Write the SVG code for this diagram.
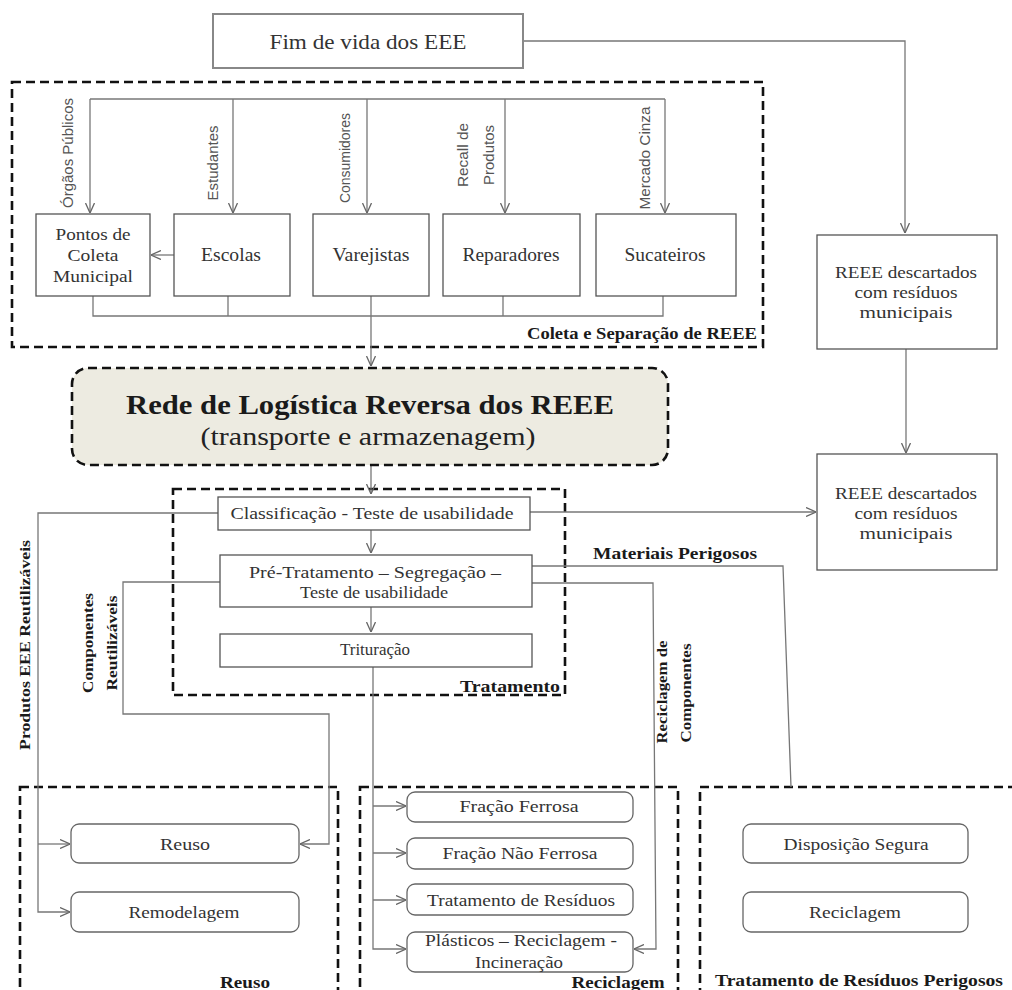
<svg xmlns="http://www.w3.org/2000/svg" width="1012" height="990" viewBox="0 0 1012 990">
<style>
.t{font-family:"Liberation Serif","Times New Roman",serif;fill:#333;text-anchor:middle}
.b{font-family:"Liberation Serif","Times New Roman",serif;font-weight:bold;fill:#1a1a1a}
.s{font-family:"Liberation Sans",Arial,sans-serif;fill:#555;text-anchor:middle}
.box{fill:#fff;stroke:#555;stroke-width:1.3}
.rbox{fill:#fff;stroke:#666;stroke-width:1.3}
.dash{fill:none;stroke:#111;stroke-width:2.6;stroke-dasharray:9 5}
.c{fill:none;stroke:#777;stroke-width:1.3}
</style>
<defs>
<marker id="a" viewBox="0 0 10 10" refX="10" refY="5" markerWidth="10" markerHeight="10" markerUnits="userSpaceOnUse" orient="auto">
<path d="M0,0.5 L10,5 L0,9.5" fill="none" stroke="#666" stroke-width="1.3"/>
</marker>
</defs>
<rect width="1012" height="990" fill="#fff"/>

<g id="coleta-group">
<rect class="dash" x="12" y="82" width="751" height="265"/>
<text class="b" x="757" y="339" font-size="17" text-anchor="end" textLength="230" lengthAdjust="spacingAndGlyphs">Coleta e Separação de REEE</text>
</g>
<g id="tratamento-group">
<rect class="dash" x="173" y="489" width="392" height="206"/>
<text class="b" x="560" y="692" font-size="17" text-anchor="end" textLength="100" lengthAdjust="spacingAndGlyphs">Tratamento</text>
</g>
<g id="reuso-group">
<rect class="dash" x="20" y="787" width="318" height="230"/>
<text class="b" x="245" y="988" font-size="17" text-anchor="middle" textLength="50" lengthAdjust="spacingAndGlyphs">Reuso</text>
</g>
<g id="reciclagem-group">
<rect class="dash" x="360" y="787" width="318" height="230"/>
<text class="b" x="618" y="988" font-size="17" text-anchor="middle" textLength="93" lengthAdjust="spacingAndGlyphs">Reciclagem</text>
</g>
<g id="perigosos-group">
<rect class="dash" x="700" y="787" width="330" height="230"/>
<text class="b" x="859" y="986" font-size="17" text-anchor="middle" textLength="288" lengthAdjust="spacingAndGlyphs">Tratamento de Resíduos Perigosos</text>
</g>

<g id="connectors">
<path class="c" d="M523,41 H905 V233" marker-end="url(#a)"/>
<path class="c" d="M90,99 H665"/>
<path class="c" d="M90,99 V213" marker-end="url(#a)"/>
<path class="c" d="M233,99 V213" marker-end="url(#a)"/>
<path class="c" d="M367,99 V213" marker-end="url(#a)"/>
<path class="c" d="M505,99 V213" marker-end="url(#a)"/>
<path class="c" d="M665,99 V213" marker-end="url(#a)"/>
<path class="c" d="M174,255 H151" marker-end="url(#a)"/>
<path class="c" d="M93,296 V316 H663 V296"/>
<path class="c" d="M228,296 V316"/>
<path class="c" d="M503,296 V316"/>
<path class="c" d="M371,296 V366" marker-end="url(#a)"/>
<path class="c" d="M906,349 V453" marker-end="url(#a)"/>
<path class="c" d="M371,465 V494" marker-end="url(#a)"/>
<path class="c" d="M530,512 H816" marker-end="url(#a)"/>
<path class="c" d="M371,530 V553" marker-end="url(#a)"/>
<path class="c" d="M371,607 V632" marker-end="url(#a)"/>
<path class="c" d="M218,513 H38 V912 H70" marker-end="url(#a)"/>
<path class="c" d="M38,844 H70" marker-end="url(#a)"/>
<path class="c" d="M220,582 H123 V714 H329 V844 H300" marker-end="url(#a)"/>
<path class="c" d="M373,667 V949 H406" marker-end="url(#a)"/>
<path class="c" d="M373,806 H406" marker-end="url(#a)"/>
<path class="c" d="M373,853 H406" marker-end="url(#a)"/>
<path class="c" d="M373,900 H406" marker-end="url(#a)"/>
<path class="c" d="M532,566 H783 L791,787"/>
<path class="c" d="M532,583 H653 L656,949 H634" marker-end="url(#a)"/>
</g>

<g id="labels">
<text class="s" font-size="15" transform="translate(73,153) rotate(-90)" textLength="110" lengthAdjust="spacingAndGlyphs">Órgãos Públicos</text>
<text class="s" font-size="15" transform="translate(218,163) rotate(-90)" textLength="75" lengthAdjust="spacingAndGlyphs">Estudantes</text>
<text class="s" font-size="15" transform="translate(350,158) rotate(-90)" textLength="90" lengthAdjust="spacingAndGlyphs">Consumidores</text>
<text class="s" font-size="15" transform="translate(468,155) rotate(-90)" textLength="64" lengthAdjust="spacingAndGlyphs">Recall de</text>
<text class="s" font-size="15" transform="translate(494,155) rotate(-90)" textLength="60" lengthAdjust="spacingAndGlyphs">Produtos</text>
<text class="s" font-size="15" transform="translate(650,158) rotate(-90)" textLength="103" lengthAdjust="spacingAndGlyphs">Mercado Cinza</text>
<text class="b" font-size="15" text-anchor="middle" transform="translate(30,645) rotate(-90)" textLength="210" lengthAdjust="spacingAndGlyphs">Produtos EEE Reutilizáveis</text>
<text class="b" font-size="15" text-anchor="middle" transform="translate(93,643) rotate(-90)" textLength="100" lengthAdjust="spacingAndGlyphs">Componentes</text>
<text class="b" font-size="15" text-anchor="middle" transform="translate(117,643) rotate(-90)" textLength="95" lengthAdjust="spacingAndGlyphs">Reutilizáveis</text>
<text class="b" font-size="15" text-anchor="middle" transform="translate(667,692) rotate(-90)" textLength="103" lengthAdjust="spacingAndGlyphs">Reciclagem de</text>
<text class="b" font-size="15" text-anchor="middle" transform="translate(691,693) rotate(-90)" textLength="99" lengthAdjust="spacingAndGlyphs">Componentes</text>
<text class="b" x="675" y="559" font-size="17" text-anchor="middle" textLength="164" lengthAdjust="spacingAndGlyphs">Materiais Perigosos</text>
</g>

<g id="fim-de-vida">
<rect x="213" y="14" width="310" height="54" fill="#fff" stroke="#888" stroke-width="2"/>
<text class="t" x="368" y="49" font-size="21" textLength="197" lengthAdjust="spacingAndGlyphs">Fim de vida dos EEE</text>
</g>
<g id="pontos-coleta">
<rect class="box" x="36" y="214" width="114" height="82"/>
<text class="t" x="93" y="240" font-size="16" textLength="75" lengthAdjust="spacingAndGlyphs">Pontos de</text>
<text class="t" x="93" y="261" font-size="16" textLength="51" lengthAdjust="spacingAndGlyphs">Coleta</text>
<text class="t" x="93" y="282" font-size="16" textLength="80" lengthAdjust="spacingAndGlyphs">Municipal</text>
</g>
<g id="escolas">
<rect class="box" x="174" y="214" width="116" height="82"/>
<text class="t" x="231" y="261" font-size="18" textLength="60" lengthAdjust="spacingAndGlyphs">Escolas</text>
</g>
<g id="varejistas">
<rect class="box" x="313" y="214" width="116" height="82"/>
<text class="t" x="371" y="261" font-size="18" textLength="77" lengthAdjust="spacingAndGlyphs">Varejistas</text>
</g>
<g id="reparadores">
<rect class="box" x="443" y="214" width="137" height="82"/>
<text class="t" x="511" y="261" font-size="18" textLength="97" lengthAdjust="spacingAndGlyphs">Reparadores</text>
</g>
<g id="sucateiros">
<rect class="box" x="596" y="214" width="140" height="82"/>
<text class="t" x="665" y="261" font-size="18" textLength="81" lengthAdjust="spacingAndGlyphs">Sucateiros</text>
</g>
<g id="reee-descartados-1">
<rect class="box" x="817" y="235" width="180" height="114"/>
<text class="t" x="906" y="278" font-size="17" textLength="142" lengthAdjust="spacingAndGlyphs">REEE descartados</text>
<text class="t" x="906" y="298" font-size="17" textLength="103" lengthAdjust="spacingAndGlyphs">com resíduos</text>
<text class="t" x="906" y="318" font-size="17" textLength="93" lengthAdjust="spacingAndGlyphs">municipais</text>
</g>
<g id="rede-logistica">
<rect x="72" y="368" width="596" height="97" rx="16" fill="#EDEBE1" stroke="#111" stroke-width="2.6" stroke-dasharray="9 5"/>
<text class="b" x="370" y="414" font-size="27" text-anchor="middle" textLength="488" lengthAdjust="spacingAndGlyphs">Rede de Logística Reversa dos REEE</text>
<text class="t" x="368" y="445" font-size="25" style="fill:#222" textLength="335" lengthAdjust="spacingAndGlyphs">(transporte e armazenagem)</text>
</g>
<g id="reee-descartados-2">
<rect class="box" x="817" y="454" width="180" height="116"/>
<text class="t" x="906" y="499" font-size="17" textLength="142" lengthAdjust="spacingAndGlyphs">REEE descartados</text>
<text class="t" x="906" y="519" font-size="17" textLength="103" lengthAdjust="spacingAndGlyphs">com resíduos</text>
<text class="t" x="906" y="539" font-size="17" textLength="93" lengthAdjust="spacingAndGlyphs">municipais</text>
</g>
<g id="classificacao">
<rect class="box" x="218" y="497" width="312" height="33"/>
<text class="t" x="372" y="519" font-size="16" textLength="283" lengthAdjust="spacingAndGlyphs">Classificação -  Teste de usabilidade</text>
</g>
<g id="pre-tratamento">
<rect class="box" x="220" y="555" width="312" height="52"/>
<text class="t" x="375" y="578" font-size="16" textLength="252" lengthAdjust="spacingAndGlyphs">Pré-Tratamento –  Segregação –</text>
<text class="t" x="374" y="598" font-size="16" textLength="148" lengthAdjust="spacingAndGlyphs">Teste de usabilidade</text>
</g>
<g id="trituracao">
<rect class="box" x="220" y="634" width="312" height="33"/>
<text class="t" x="375" y="655" font-size="16" textLength="70" lengthAdjust="spacingAndGlyphs">Trituração</text>
</g>
<g id="reuso">
<rect class="rbox" x="71" y="824" width="228" height="39" rx="8"/>
<text class="t" x="185" y="850" font-size="16" textLength="50" lengthAdjust="spacingAndGlyphs">Reuso</text>
</g>
<g id="remodelagem">
<rect class="rbox" x="71" y="892" width="228" height="40" rx="8"/>
<text class="t" x="184" y="918" font-size="16" textLength="111" lengthAdjust="spacingAndGlyphs">Remodelagem</text>
</g>
<g id="fracao-ferrosa">
<rect class="rbox" x="407" y="792" width="226" height="30" rx="8"/>
<text class="t" x="519" y="812" font-size="16" textLength="119" lengthAdjust="spacingAndGlyphs">Fração Ferrosa</text>
</g>
<g id="fracao-nao-ferrosa">
<rect class="rbox" x="407" y="838" width="226" height="31" rx="8"/>
<text class="t" x="520" y="859" font-size="16" textLength="155" lengthAdjust="spacingAndGlyphs">Fração Não Ferrosa</text>
</g>
<g id="tratamento-residuos">
<rect class="rbox" x="407" y="884" width="226" height="31" rx="8"/>
<text class="t" x="521" y="906" font-size="16" textLength="188" lengthAdjust="spacingAndGlyphs">Tratamento de Resíduos</text>
</g>
<g id="plasticos">
<rect class="rbox" x="407" y="932" width="226" height="40" rx="8"/>
<text class="t" x="521" y="946" font-size="16" textLength="192" lengthAdjust="spacingAndGlyphs">Plásticos – Reciclagem -</text>
<text class="t" x="519" y="968" font-size="16" textLength="88" lengthAdjust="spacingAndGlyphs">Incineração</text>
</g>
<g id="disposicao-segura">
<rect class="rbox" x="743" y="824" width="225" height="39" rx="8"/>
<text class="t" x="856" y="850" font-size="16" textLength="145" lengthAdjust="spacingAndGlyphs">Disposição Segura</text>
</g>
<g id="reciclagem-perigosos">
<rect class="rbox" x="743" y="892" width="225" height="40" rx="8"/>
<text class="t" x="855" y="918" font-size="16" textLength="92" lengthAdjust="spacingAndGlyphs">Reciclagem</text>
</g>
</svg>
